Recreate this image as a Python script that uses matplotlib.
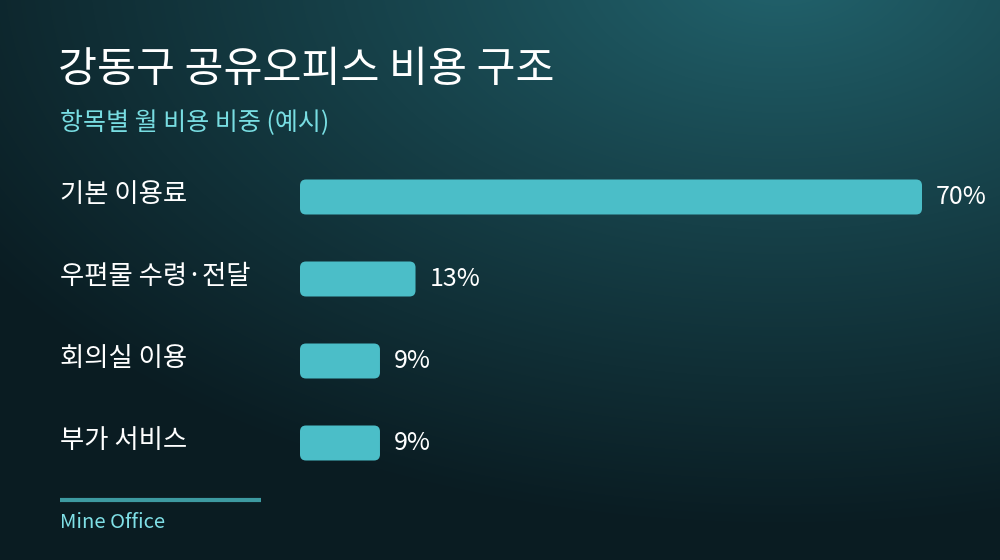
import numpy as np
import matplotlib
matplotlib.use("Agg")
from matplotlib import pyplot as plt
from matplotlib.patches import FancyBboxPatch

plt.rcParams['font.family'] = ['Noto Sans CJK KR', 'DejaVu Sans']

title = '강동구 공유오피스 비용 구조'
subtitle = '항목별 월 비용 비중 (예시)'
source = 'Mine Office'
categories = ['기본 이용료', '우편물 수령·전달', '회의실 이용', '부가 서비스']
shares = [70, 13, 9, 9]

bar_color = '#4bbec8'
W, H = 1000, 560

fig = plt.figure(figsize=(10, 5.6), dpi=100)

# background gradient
bg = fig.add_axes([0, 0, 1, 1])
yy, xx = np.mgrid[0:H, 0:W]
d = np.sqrt(((xx - 780) / 950.0) ** 2 + ((yy + 30) / 560.0) ** 2)
t = np.clip(d, 0, 1) ** 0.9
top = np.array([0x22, 0x64, 0x6e]) / 255.0
bot = np.array([0x0a, 0x1c, 0x22]) / 255.0
img = top[None, None, :] * (1 - t[..., None]) + bot[None, None, :] * t[..., None]
bg.imshow(img, extent=[0, W, H, 0], aspect='auto')
bg.set_xlim(0, W)
bg.set_ylim(H, 0)
bg.axis('off')

# texts
fig.text(58 / W, 1 - 70 / H, title, color='white', fontsize=30.5, fontweight=500, va='center')
fig.text(60 / W, 1 - 123 / H, subtitle, color='#78dde2', fontsize=18, va='center')
fig.text(60 / W, 1 - 522 / H, source, color='#7fdfe6', fontsize=14.6, va='center')
bg.plot([60, 261], [500, 500], color='#3d9aa1', lw=3, solid_capstyle='butt')

# bars
left_px, right_px = 300, 922
top_px, bot_px = 156, 484
ax = fig.add_axes([left_px / W, 1 - bot_px / H, (right_px - left_px) / W, (bot_px - top_px) / H])
ax.set_xlim(0, max(shares))
ax.set_ylim(len(categories) - 0.5, -0.5)
ax.axis('off')

bar_h = 35 / 82.0
px_x = max(shares) / (right_px - left_px)
px_y = len(categories) / (bot_px - top_px)
for i, (cat, v) in enumerate(zip(categories, shares)):
    box = FancyBboxPatch((0, i - bar_h / 2), v, bar_h,
                         boxstyle='round,pad=0,rounding_size=%f' % (6 * px_x),
                         mutation_aspect=px_y / px_x,
                         fc=bar_color, ec='none')
    ax.add_patch(box)
    ax.text(v + 14 * px_x, i, '%d%%' % v, color='white', fontsize=18, fontweight=300,
            va='center', ha='left')
    fig.text(60 / W, 1 - (top_px + (i + 0.5) * 82 - 2) / H, cat, color='white', fontsize=19, va='center')

fig.savefig('out.png', dpi=100)
